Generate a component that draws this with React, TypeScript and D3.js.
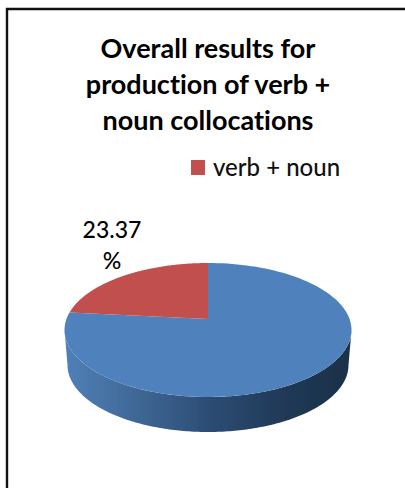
import React from "react";
import * as d3 from "d3";

const categories = ["other", "verb + noun"];
const values = [76.63, 23.37];
const colors = ["#4f81bd", "#c0504d"];
const titleLines = ["Overall results for", "production of verb +", "noun collocations"];
const labelLines = ["23.37", "%"];
const legendLabel = "verb + noun";

const cx = 208, cy = 330, rx = 143.5, ry = 67, depth = 35, wallInset = 3;
// perspective shift: the pie's centre appears above the middle of the ellipse
const shift = 11 / ry;

const toScreen = (a: number): [number, number] => {
  const x = Math.sin(a), y = Math.cos(a);
  const den = 1 + shift * y;
  const yp = (y + shift) / den;
  const xp = (x * Math.sqrt(1 - shift * shift)) / den;
  return [cx + rx * xp, cy - ry * yp];
};

export default function App() {
  const slices = d3.pie<number>().sort(null)(values);
  const line = d3.line<[number, number]>();
  const apex: [number, number] = [cx, cy - ry * shift];
  const slicePath = (s: d3.PieArcDatum<number>) => {
    const n = 120;
    const scale = d3.scaleLinear().domain([0, n]).range([s.startAngle, s.endAngle]);
    const pts = d3.range(n + 1).map((i) => toScreen(scale(i)));
    return line([apex, ...pts]) + "Z";
  };
  const deg = d3.range(0, 181).map((d) => (d * Math.PI) / 180);
  const upper = deg.map((a) => [cx + rx * Math.cos(a), cy + ry * Math.sin(a)] as [number, number]);
  const lower = deg
    .map((a) => [cx + (rx - wallInset) * Math.cos(a), cy + depth + ry * Math.sin(a)] as [number, number])
    .reverse();
  const wall = line([...upper, ...lower]) + "Z";

  return (
    <svg
      width={405}
      height={488}
      style={{ position: "fixed", left: 0, top: 0, display: "block", background: "#fff", fontVariantLigatures: "none" }}
      fontFamily="Lato, sans-serif"
    >
      <defs>
        <linearGradient id="side" x1="0" x2="1" y1="0" y2="0">
          <stop offset="0" stopColor="#5080b8" />
          <stop offset="0.25" stopColor="#3f6896" />
          <stop offset="0.5" stopColor="#2d4d75" />
          <stop offset="0.75" stopColor="#203a58" />
          <stop offset="1" stopColor="#1c3048" />
        </linearGradient>
        <filter id="soft" x="-5%" y="-5%" width="110%" height="110%">
          <feGaussianBlur stdDeviation="0.5" />
        </filter>
      </defs>
      <path d="M7,488 V9 H405" fill="none" stroke="#111" strokeWidth={2.4} />
      {titleLines.map((t, i) => (
        <text key={t} x={208} y={58 + i * 36} textAnchor="middle" fontSize={27} fontWeight={700} fill="#000">
          {t}
        </text>
      ))}
      <rect x={191} y={160} width={14} height={15} fill={colors[1]} />
      <text x={213} y={176} fontSize={24} fontWeight={500} fill="#111">
        {legendLabel}
      </text>
      {labelLines.map((t, i) => (
        <text key={t} x={112} y={238 + i * 31} textAnchor="middle" fontSize={23} fontWeight={500} fill="#000">
          {t}
        </text>
      ))}
      <g filter="url(#soft)">
        <path d={wall} fill="url(#side)" />
        {slices.map((s, i) => (
          <path key={categories[i]} d={slicePath(s)} fill={colors[i]} />
        ))}
      </g>
    </svg>
  );
}
